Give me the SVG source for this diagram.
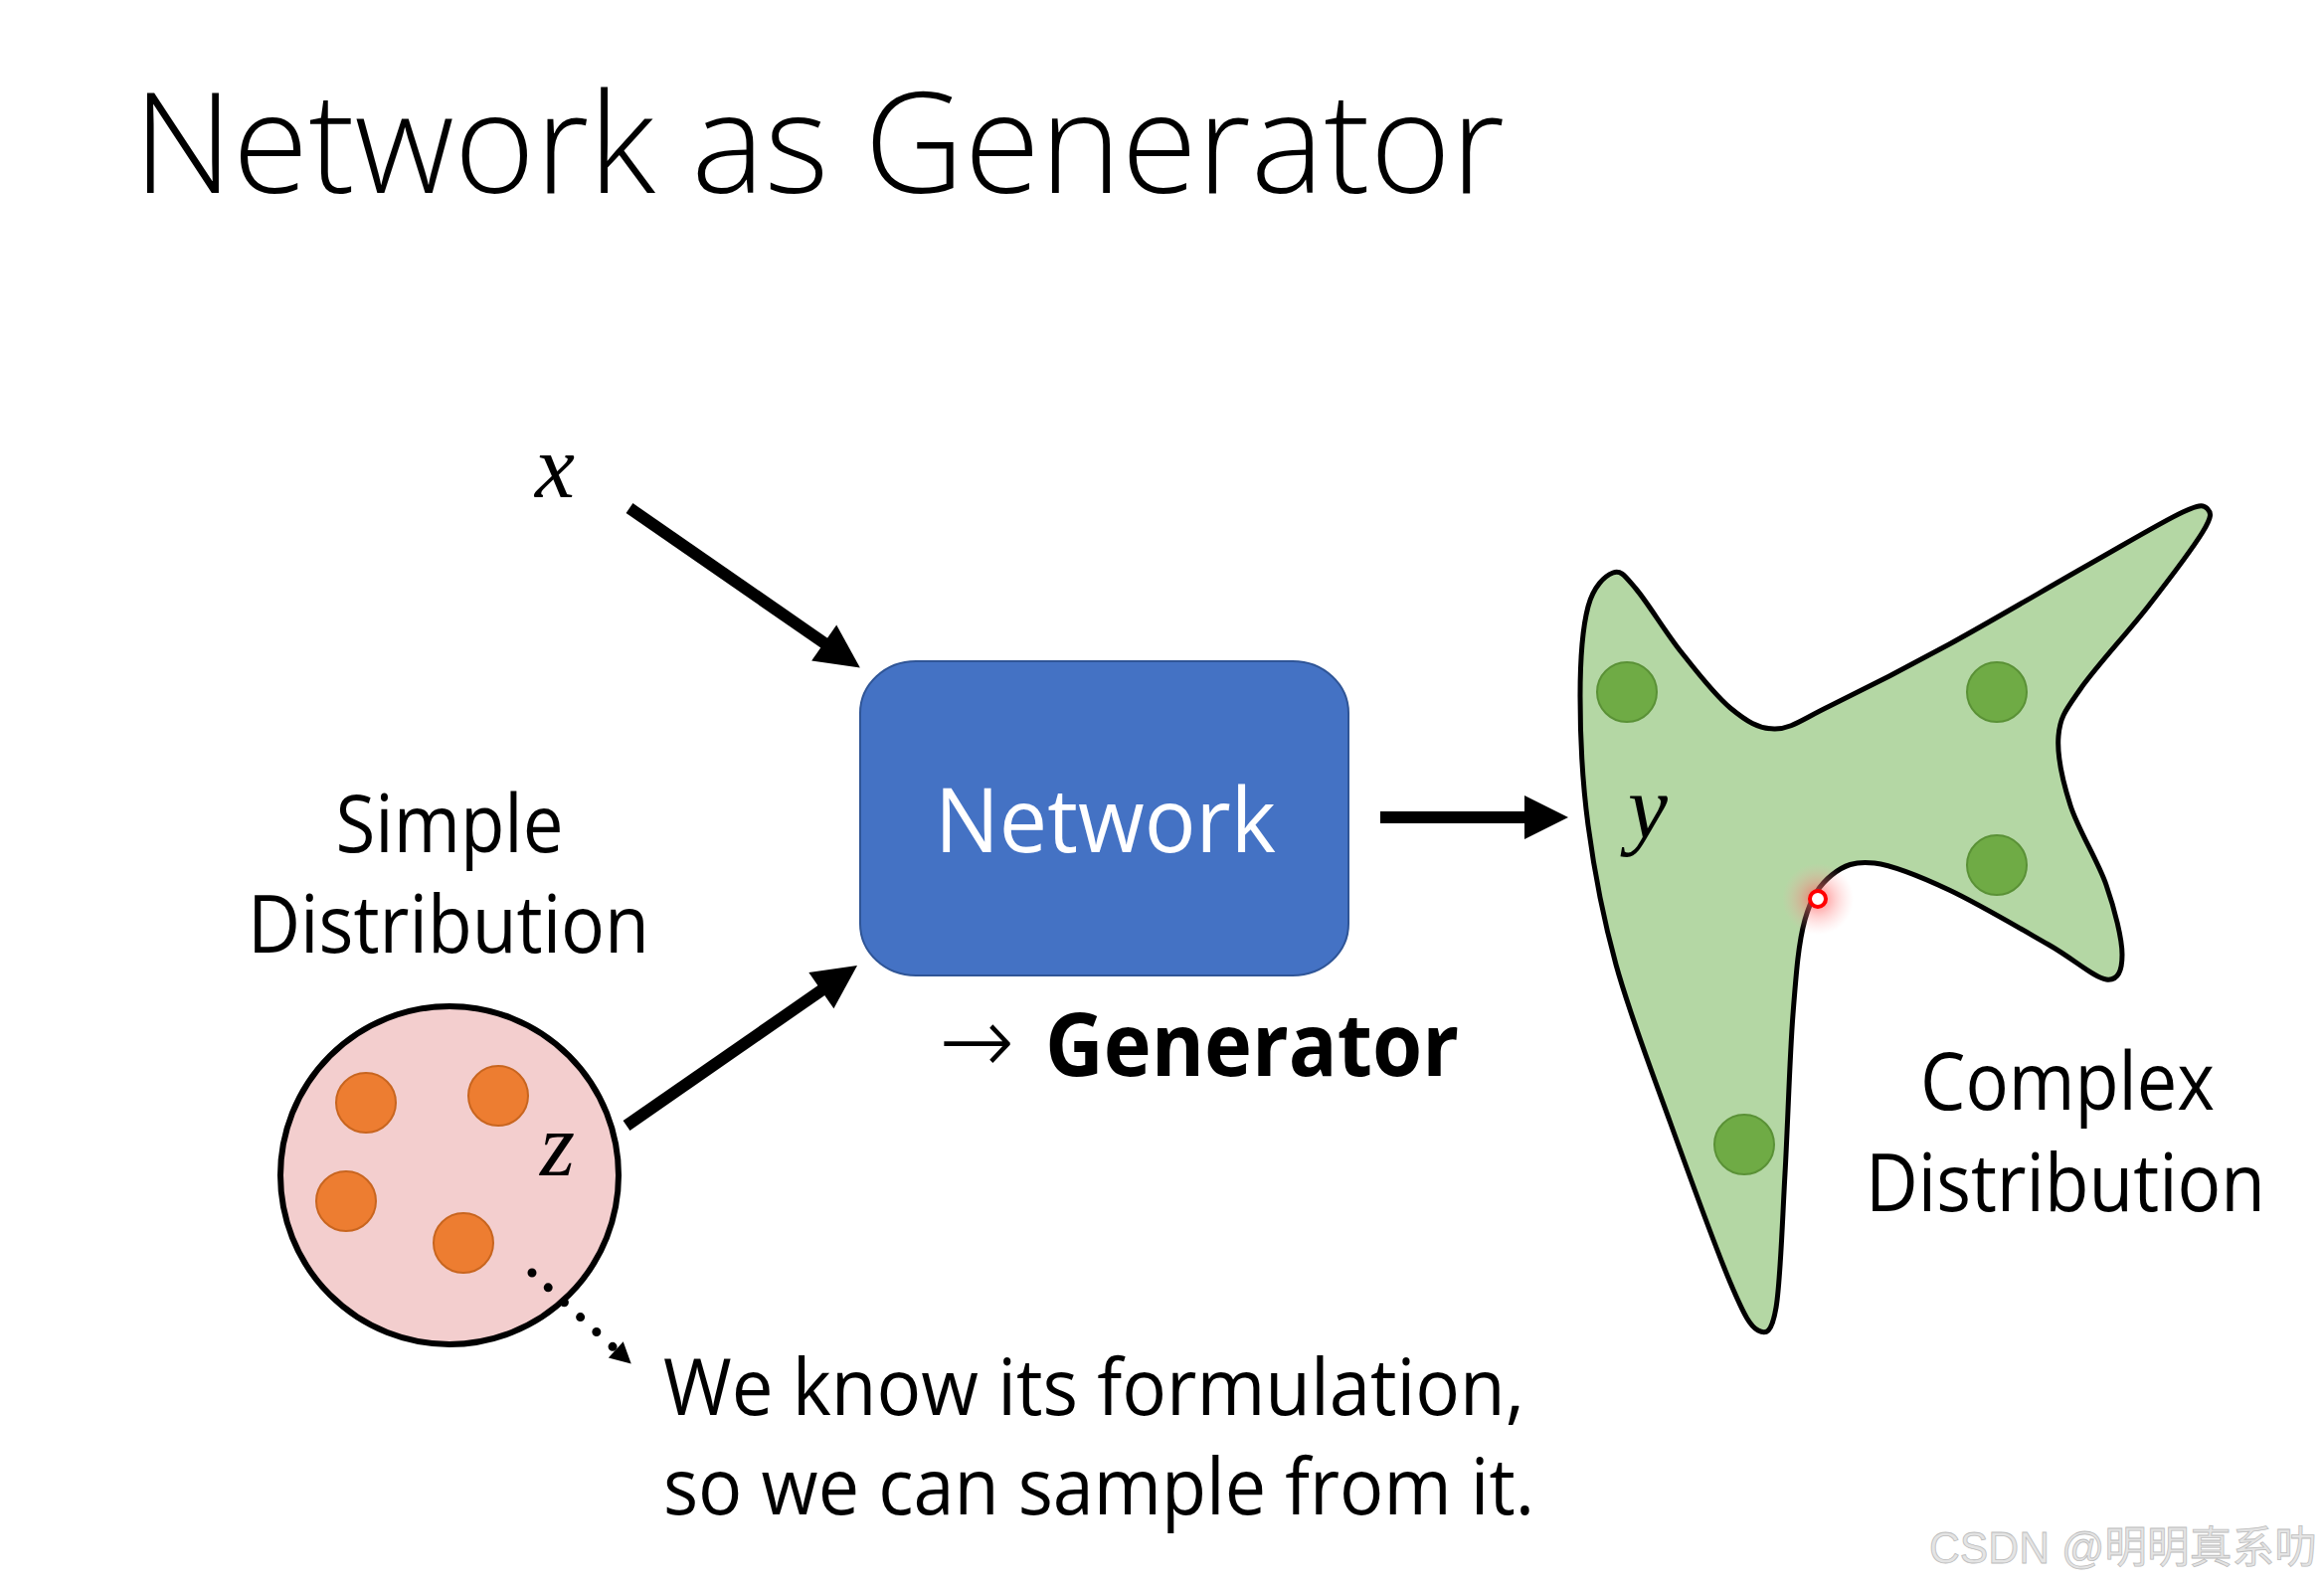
<svg xmlns="http://www.w3.org/2000/svg" width="2337" height="1595" viewBox="0 0 2337 1595">
<style>
.t{font-family:"Open Sans","Lato",sans-serif;fill:#000}
.m{font-family:"Liberation Serif","DejaVu Serif",serif;font-style:italic;font-size:90px;fill:#000}
.lbl{font-size:80px}
.conn{stroke:#000;stroke-width:12;fill:none}
</style>
<defs>
<marker id="head" markerUnits="userSpaceOnUse" markerWidth="50" markerHeight="50" refX="1" refY="0" viewBox="0 -25 50 50" orient="auto" overflow="visible">
<path d="M0,-22 L44,0 L0,22 z" fill="#000"/>
</marker>
<marker id="headS" markerUnits="userSpaceOnUse" markerWidth="24" markerHeight="24" refX="1" refY="0" viewBox="0 -12 24 24" orient="auto" overflow="visible">
<path d="M0,-11 L21,0 L0,11 z" fill="#000"/>
</marker>
<radialGradient id="glow">
<stop offset="0" stop-color="#ff5050" stop-opacity="0.75"/>
<stop offset="0.5" stop-color="#ff8080" stop-opacity="0.35"/>
<stop offset="1" stop-color="#ffb0b0" stop-opacity="0"/>
</radialGradient>
</defs>
<rect width="2337" height="1595" fill="#fff"/>

<text id="title" class="t" x="134" y="194" font-size="140" font-weight="300" textLength="1379" lengthAdjust="spacingAndGlyphs">Network as Generator</text>

<g id="input-x">
<text class="m" x="538" y="500">x</text>
</g>

<g id="simple-distribution">
<text class="t lbl" x="452" y="857" text-anchor="middle" textLength="229" lengthAdjust="spacingAndGlyphs">Simple</text>
<text class="t lbl" x="451" y="958" text-anchor="middle" textLength="404" lengthAdjust="spacingAndGlyphs">Distribution</text>
<circle cx="452" cy="1182" r="170" fill="#F3CECE" stroke="#000" stroke-width="6"/>
<g fill="#ED7D31" stroke="#C8651F" stroke-width="2">
<circle cx="368" cy="1109" r="30"/>
<circle cx="501" cy="1102" r="30"/>
<circle cx="348" cy="1208" r="30"/>
<circle cx="466" cy="1250" r="30"/>
</g>
<text class="m" x="543" y="1182">z</text>
</g>

<g id="network">
<rect x="865" y="665" width="491" height="316" rx="56" ry="52" fill="#4472C4" stroke="#2F5597" stroke-width="2"/>
<text class="t" x="940" y="857" font-size="90" style="fill:#fff" textLength="343" lengthAdjust="spacingAndGlyphs">Network</text>
</g>

<g id="generator-label">
<text x="944" y="1080" font-family="DejaVu Sans, sans-serif" font-size="96" font-weight="200" textLength="76" lengthAdjust="spacingAndGlyphs">→</text>
<text class="t" x="1051" y="1082" font-size="87" font-weight="700" textLength="416" lengthAdjust="spacingAndGlyphs">Generator</text>
</g>

<g id="complex-distribution">
<path d="M1622,576 C1614,579 1602.5,589.3 1597,610 C1591.5,630.7 1589,663.3 1589,700 C1589,736.7 1591,785 1597,830 C1603,875 1611.2,920 1625,970 C1638.8,1020 1660.8,1076.7 1680,1130 C1699.2,1183.3 1725.3,1255.3 1740,1290 C1754.7,1324.7 1760.3,1333.8 1768,1338 C1775.7,1342.2 1781.5,1341.3 1786,1315 C1790.5,1288.7 1792.2,1229.2 1795,1180 C1797.8,1130.8 1799.7,1062.5 1803,1020 C1806.3,977.5 1808.5,948.3 1815,925 C1821.5,901.7 1830.3,889.5 1842,880 C1853.7,870.5 1865.3,865.5 1885,868 C1904.7,870.5 1930.8,881.3 1960,895 C1989.2,908.7 2033.7,935 2060,950 C2086.3,965 2105.7,983.3 2118,985 C2130.3,986.7 2134,975.8 2134,960 C2134,944.2 2126.7,915 2118,890 C2109.3,865 2090,835 2082,810 C2074,785 2068.3,759.5 2070,740 C2071.7,720.5 2077,714.7 2092,693 C2107,671.3 2139.5,636.3 2160,610 C2180.5,583.7 2205,551.3 2215,535 C2225,518.7 2223.3,515.3 2220,512 C2216.7,508.7 2215,505.7 2195,515 C2175,524.3 2139.2,545.8 2100,568 C2060.8,590.2 2003.3,624.3 1960,648 C1916.7,671.7 1869.2,695.8 1840,710 C1810.8,724.2 1801.7,732.7 1785,733 C1768.3,733.3 1755.8,725 1740,712 C1724.2,699 1705.8,675 1690,655 C1674.2,635 1656.3,605.2 1645,592 C1633.7,578.8 1630,573 1622,576 Z" fill="#B4D7A4" stroke="#000" stroke-width="5" stroke-linejoin="round"/>
<g fill="#6FAB45" stroke="#5A9136" stroke-width="2">
<circle cx="1636" cy="696" r="30"/>
<circle cx="2008" cy="696" r="30"/>
<circle cx="2008" cy="870" r="30"/>
<circle cx="1754" cy="1151" r="30"/>
</g>
<circle cx="1828" cy="904" r="36" fill="url(#glow)"/>
<circle cx="1828" cy="904" r="8" fill="#fff" stroke="#f00" stroke-width="4"/>
<text class="m" x="1637" y="843">y</text>
<text class="t lbl" x="2079" y="1116" text-anchor="middle" textLength="296" lengthAdjust="spacingAndGlyphs">Complex</text>
<text class="t lbl" x="2077" y="1218" text-anchor="middle" textLength="402" lengthAdjust="spacingAndGlyphs">Distribution</text>
</g>

<g id="note">
<text class="t" x="667" y="1423" font-size="78" textLength="866" lengthAdjust="spacingAndGlyphs">We know its formulation,</text>
<text class="t" x="667" y="1523" font-size="78" textLength="876" lengthAdjust="spacingAndGlyphs">so we can sample from it.</text>
</g>

<g id="connectors">
<line class="conn" x1="633" y1="511" x2="829.5" y2="647.1" marker-end="url(#head)"/>
<line class="conn" x1="630" y1="1132" x2="826.7" y2="995.5" marker-end="url(#head)"/>
<line class="conn" x1="1388" y1="822" x2="1534" y2="822" marker-end="url(#head)"/>
<line x1="535" y1="1280" x2="620" y2="1358" stroke="#000" stroke-width="9" stroke-linecap="round" stroke-dasharray="0 22" marker-end="url(#headS)"/>
</g>

<text id="watermark" x="1940" y="1572" font-family="Liberation Sans, Noto Sans CJK SC, sans-serif" font-size="44" fill="#e4e4e4" stroke="#bdbdbd" stroke-width="0.8" textLength="390" lengthAdjust="spacingAndGlyphs">CSDN @明明真系叻</text>
</svg>
